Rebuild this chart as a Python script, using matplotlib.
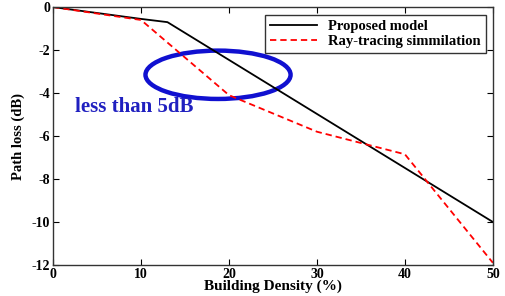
import numpy as np
import matplotlib
matplotlib.use('Agg')
import matplotlib.pyplot as plt
from matplotlib.patches import Ellipse

#------------------------------------------------------------------------------
#   Data
#------------------------------------------------------------------------------
density_model = [0, 10, 13, 50]
loss_model = [0, -0.55, -0.7, -10]

density_ray = [0, 10, 20, 30, 40, 50]
loss_ray = [0, -0.6, -4.1, -5.8, -6.85, -11.9]

x_ticks = [0, 10, 20, 30, 40, 50]
y_ticks = [0, -2, -4, -6, -8, -10, -12]

plt.rcParams['font.family'] = ['Liberation Serif', 'DejaVu Serif']
plt.rcParams['font.weight'] = 'bold'
plt.rcParams['axes.unicode_minus'] = False

#------------------------------------------------------------------------------
#   Plot
#------------------------------------------------------------------------------
fig = plt.figure(figsize=(5.06, 2.96), dpi=100)
ax = fig.add_axes([0.105, 0.105, 0.869, 0.871])

ax.plot(density_model, loss_model, color='black', lw=1.3, label='Proposed model')
ax.plot(density_ray, loss_ray, color='red', lw=1.3, ls=(0, (3.5, 2.2)),
        label='Ray-tracing simmilation')

ax.add_patch(Ellipse((18.75, -3.15), 16.5, 2.25, fill=False,
                     edgecolor='#1010d0', lw=3.2))
ax.text(2.5, -4.65, 'less than 5dB', color='#2020c0', fontsize=15,
        fontweight='bold', va='center', ha='left')

ax.set_xlim(0, 50)
ax.set_ylim(-12, 0)
ax.set_xticks(x_ticks)
ax.set_yticks(y_ticks)
ax.tick_params(direction='in', top=True, right=True, length=4,
               labelsize=10, pad=2)
for lbl in ax.get_xticklabels() + ax.get_yticklabels():
    lbl.set_fontweight('bold')
for sp in ax.spines.values():
    sp.set_linewidth(1.0)
    sp.set_color('#333333')

ax.set_xlabel('Building Density (%)', fontsize=11, fontweight='bold', labelpad=-1)
ax.set_ylabel('Path loss (dB)', fontsize=10.5, fontweight='bold', labelpad=5)

leg = ax.legend(loc='upper right', fontsize=10.5, frameon=True, fancybox=False,
                edgecolor='black', handlelength=3.2, borderpad=0.35,
                labelspacing=0.15, borderaxespad=0.25,
                bbox_to_anchor=(0.993, 0.985))
leg.get_frame().set_linewidth(1.0)
for t in leg.get_texts():
    t.set_fontweight('bold')

fig.savefig('out.png', dpi=100)
